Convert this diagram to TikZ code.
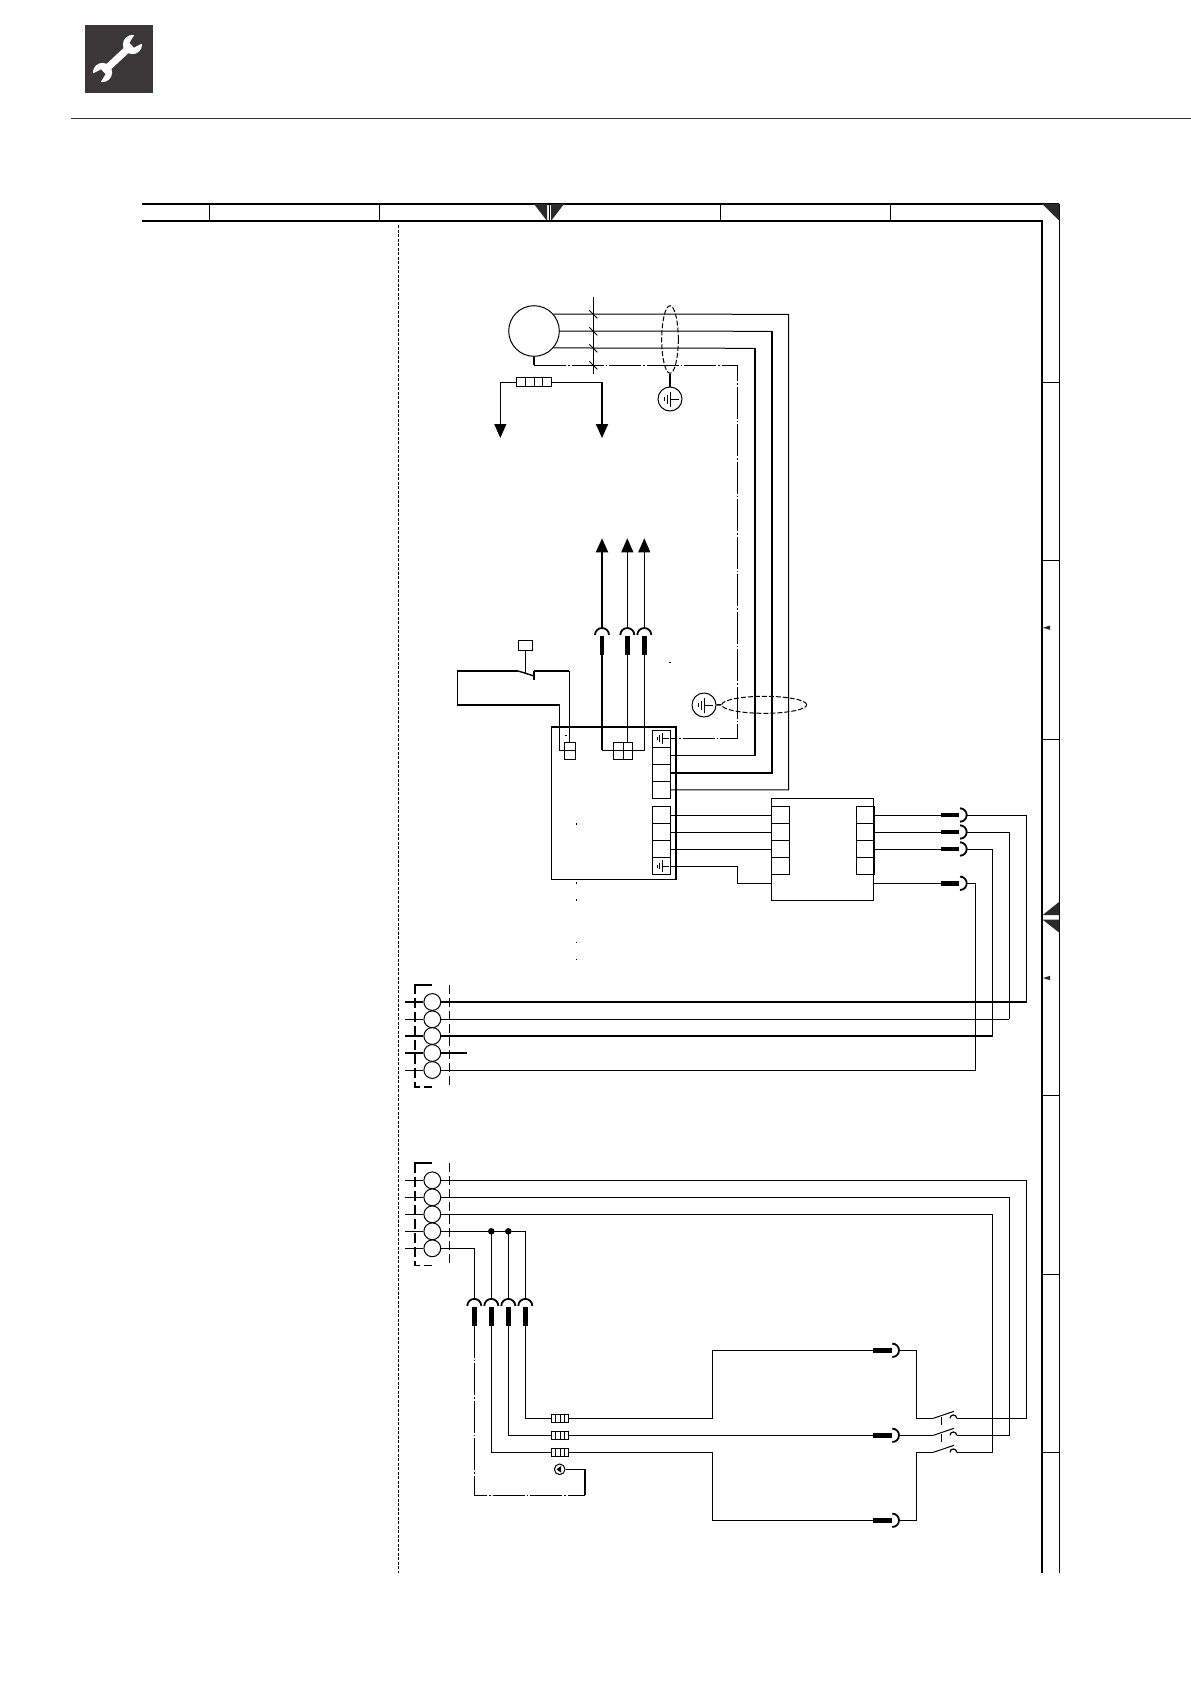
\documentclass[tikz,border=0pt]{standalone}
\usepackage{tikz}
\usetikzlibrary{arrows.meta}
\usetikzlibrary{positioning}
\usetikzlibrary{shapes.geometric}
\definecolor{icongray}{HTML}{3B3738}
\definecolor{markgray}{HTML}{2A2A2A}
\tikzset{wire/.style = {line width=1pt},
         fatwire/.style = {line width=2pt},
         midwire/.style = {line width=1.4pt},
         earthwire/.style = {line width=1pt, dash pattern=on 32pt off 2pt on 1.5pt off 2pt},
         tipwire/.style = {-{Triangle[length=14pt,width=12pt]}},
         termcirc/.style = {circle, draw, line width=1pt, inner sep=0pt, minimum size=16.8pt},
         termblock/.style = {inner sep=0pt, minimum width=34.3pt, minimum height=102pt},
         blockedge/.style = {line width=1.6pt, dash pattern=on 27pt off 4pt on 10pt off 4pt on 10pt off 4pt on 10pt off 4pt on 10pt off 4pt on 10pt off 4pt on 10pt off 4pt on 10pt off 4pt on 10pt off 4pt},
         blockside/.style = {line width=0.9pt, dash pattern=on 9pt off 4pt},
         cellbox/.style = {draw, line width=0.9pt, inner sep=0pt, minimum width=17.6pt, minimum height=17pt},
         stripbox/.style = {draw, line width=1.5pt, inner sep=0pt, minimum width=17.6pt, minimum height=68pt},
         wirebox/.style = {draw, line width=1pt, inner sep=0pt},
         earthcirc/.style = {circle, draw, line width=1pt, inner sep=0pt, minimum size=24pt},
         shieldloop/.style = {ellipse, draw, line width=1pt, inner sep=0pt, dash pattern=on 5pt off 2pt},
         plugbar/.style = {fill=black, inner sep=0pt},
         plugarc/.style = {line width=1.8pt}}
\newcommand{\earthsign}[3]{%
  \begin{scope}[shift={(#1,#2)},scale=#3]
    \draw [wire] (0.7,0) -- (9.3,0);
    \draw [midwire] (0.7,-7.5) -- (0.7,7.5);
    \draw [wire] (-2.7,-4.5) -- (-2.7,4.5);
    \draw [wire] (-5.7,-2) -- (-5.7,2);
  \end{scope}}

\begin{document}
\begin{tikzpicture}[x=1pt,y=-1pt]
  \useasboundingbox (0,0) rectangle (1191,1684);

  % header
  \fill [icongray] (85,25) rectangle (153,93);
  \begin{scope}[shift={(117.5,58.5)},rotate=43]
    \draw [white, line width=7pt] (-19,0) -- (19,0);
    \foreach \s in {1,-1} {
      \fill [white] ({\s*20.5},0) circle (9.6pt);
      \fill [icongray] ({\s*19.5},-3.2) -- ({\s*33},-7) -- ({\s*33},7) -- ({\s*19.5},3.2) -- cycle;
    }
  \end{scope}
  \draw [line width=1pt, black!80] (71,118.3) -- (1191,118.3);

  % frame
  \draw [line width=1.1pt] (142,204) -- (1059.3,204);
  \draw [line width=2.2pt] (142,220.7) -- (1042.3,220.7) -- (1042.3,1573);
  \draw [line width=1pt] (1059.3,204) -- (1059.3,1573);
  \foreach \x in {209,379,549,720,890} {
    \draw [wire] (\x,204) -- (\x,220.7);
  }
  \foreach \y in {382.4,560.7,739,1095.6,1274,1452.3} {
    \draw [wire] (1042.3,\y) -- (1059.3,\y);
  }
  \fill [markgray] (534,204) -- (547,204) -- (547,221) -- cycle;
  \fill [markgray] (551,204) -- (564,204) -- (551,221) -- cycle;
  \fill [markgray] (1041.7,203.5) -- (1059.3,203.5) -- (1059.3,220.7) -- cycle;
  \fill [markgray] (1059.3,901.7) -- (1042.7,915) -- (1059.3,915) -- cycle;
  \fill [markgray] (1042.7,919.7) -- (1059.3,919.7) -- (1059.3,932.7) -- cycle;
  \foreach \y in {627.7,978} {
    \fill [markgray] (1043,\y) -- (1050,\y-2.2) -- (1050,\y+2.2) -- cycle;
  }
  \draw [line width=0.9pt, dash pattern=on 3pt off 1.5pt] (398,225) -- (398,1573);

  % motor and its cable
  \node [circle, draw, line width=1pt, inner sep=0pt, minimum size=50.6pt] (motor) at (534,331) {};
  \coordinate (cableA) at (788.7,314.3);
  \coordinate (cableB) at (772,331.3);
  \coordinate (cableC) at (755,348.3);
  \coordinate (cableD) at (737.7,365.3);
  \coordinate (motorfoot) at (534,365.3);

  % box with the terminal strips
  \node [draw, line width=1pt, inner sep=0pt, minimum width=123.7pt, minimum height=152.7pt] (boxA) at (613.5,803.35) {};
  \draw [fatwire] (boxA.north west) -- (boxA.north east) -- (boxA.south east);
  \foreach \i/\y in {1/738.8,2/755.8,3/772.8,4/789.8} {
    \node [cellbox] (stripU\i) at (661.5,\y) {};
  }
  \foreach \i/\y in {1/815,2/832,3/849,4/866} {
    \node [cellbox] (stripL\i) at (661.5,\y) {};
  }
  \node [stripbox] (stripU) at (661.5,764.3) {};
  \node [stripbox] (stripL) at (661.5,840.5) {};
  \earthsign{662}{738.8}{0.75}
  \earthsign{662}{866}{0.75}

  % motor wires
  \draw [wire] (motor.41) -- (cableA) |- (stripU4.east);
  \draw [wire] (motor.east) -- (cableB);
  \draw [fatwire] (cableB) |- (stripU3.east);
  \draw [wire] (motor.-41) -- (cableC);
  \draw [midwire] (cableC) -- (755,755.8);
  \draw [wire] (755,755.8) -- (stripU2.east);
  \draw [midwire] (motor.south) -- (motorfoot);
  \draw [earthwire] (motorfoot) -- (cableD) |- (stripU1.east);
  \draw [wire] (593.3,296.7) -- (593.3,374);
  \foreach \y in {314.3,331.3,348.3,365.3} {
    \draw [wire] (589.3,\y-4) -- (597.3,\y+4);
  }

  % cable shields
  \node [shieldloop, minimum width=16.6pt, minimum height=67.6pt] (shieldA) at (670,339.5) {};
  \node [earthcirc] (earthA) at (670,399) {};
  \earthsign{670}{399}{1}
  \draw [midwire] (shieldA.south) -- (earthA);
  \node [shieldloop, minimum width=85pt, minimum height=17pt] (shieldB) at (764.2,704.8) {};
  \node [earthcirc] (earthB) at (704,705) {};
  \earthsign{704}{705}{1}
  \draw [midwire] (earthB) -- (shieldB.west);

  % fuse under the motor
  \node [wirebox, line width=1.3pt, minimum width=35pt, minimum height=9pt] (fuseTop) at (534.2,382.3) {};
  \foreach \x in {525.5,534.2,542.9} {
    \draw [wire] (\x,377.7) -- (\x,386.9);
  }
  \coordinate (downA) at (500.3,438);
  \coordinate (downB) at (602,438);
  \draw [wire, tipwire] (fuseTop.west) -| (downA);
  \draw [wire] (fuseTop.east) -- (602,382.3);
  \draw [fatwire, tipwire] (602,382.3) -- (downB);

  % plugs pointing up
  \foreach \n/\x/\y in {a/602/645.3,b/627.3/645.3,c/644.3/645.3,d/474.3/1316.2,e/491.3/1316.2,f/508.3/1316.2,g/525.3/1316.2} {
    \node [plugbar, minimum width=4.7pt, minimum height=19pt] (plug\n) at (\x,\y) {};
    \draw [plugarc] (\x-7,\y-10.3) arc (180:0:7pt);
    \coordinate (arc\n) at (\x,\y-17.3);
  }
  \draw [fatwire, tipwire] (arca) -- (602,538.3);
  \draw [wire, tipwire] (arcb) -- (627.3,538.3);
  \draw [wire, tipwire] (arcc) -- (644.3,538.3);

  % small connectors in the box
  \node [wirebox, minimum width=11pt, minimum height=8.5pt] (conA1) at (569.8,746.5) {};
  \node [wirebox, minimum width=11pt, minimum height=8.5pt] (conA2) at (569.8,755) {};
  \node [wirebox, minimum width=9.5pt, minimum height=8.5pt] (conB1) at (618.5,746.5) {};
  \node [wirebox, minimum width=9.5pt, minimum height=8.5pt] (conB2) at (628,746.5) {};
  \node [wirebox, minimum width=9.5pt, minimum height=8.5pt] (conB3) at (618.5,755) {};
  \node [wirebox, minimum width=9.5pt, minimum height=8.5pt] (conB4) at (628,755) {};
  \draw [midwire] (613.7,742.2) -- (613.7,759.3);
  \draw [fatwire] (pluga.south) -- (602,750.3);
  \draw [wire] (602,750.3) -- (644.3,750.3) -- (plugc.south);
  \draw [wire] (plugb.south) -- (627.3,742.2);

  % door switch
  \coordinate (switchL) at (518.3,671);
  \coordinate (switchR) at (534,671);
  \node [wirebox, minimum width=14pt, minimum height=10.7pt] (switchhead) at (525.7,645.6) {};
  \draw [wire] (switchhead.south) -- (525.7,674);
  \draw [midwire] (switchL) -- (534,676);
  \draw [midwire] (switchR) -- (534,680);
  \draw [midwire] (switchL) -- (457.3,671) -- (457.3,705) -- (559.7,705);
  \draw [midwire] (switchR) -- (569.3,671);
  \draw [wire] (569.3,671) -- (569.3,742.2);
  \draw [wire] (559.7,705) -- (559.7,750.3) -- (564.3,750.3);

  % second box
  \node [draw, line width=1.1pt, inner sep=0pt, minimum width=102pt, minimum height=102pt] (boxB) at (822.7,849.3) {};
  \foreach \i/\y in {1/815,2/832,3/849,4/866} {
    \node [cellbox] (cellL\i) at (780.5,\y) {};
    \node [cellbox] (cellR\i) at (865.2,\y) {};
  }
  \foreach \i in {1,2,3} {
    \draw [wire] (stripL\i.east) -- (cellL\i.west);
  }
  \coordinate (boxBin) at (771.7,883.3);
  \coordinate (boxBout) at (873.7,883.3);
  \draw [wire] (stripL4.east) -- (737.7,866) |- (boxBin);

  % plugs pointing right
  \foreach \n/\x/\y in {h/950.2/815,i/950.2/832,j/950.2/849,k/950.2/883.3,l/882.5/1350.3,m/882.5/1435.3,n/882.5/1520.3} {
    \node [plugbar, minimum width=18.4pt, minimum height=4.7pt] (plug\n) at (\x,\y) {};
    \draw [plugarc] (\x+9.8,\y-6.7) arc (90:-90:6.7pt);
    \coordinate (arc\n) at (\x+16.5,\y);
  }
  \draw [wire] (cellR1.east) -- (plugh.west);
  \draw [wire] (cellR2.east) -- (plugi.west);
  \draw [wire] (cellR3.east) -- (plugj.west);
  \draw [wire] (boxBout) -- (plugk.west);

  % terminals of the upper row
  \node [termblock] (blockA) at (432.2,1036) {};
  \draw [blockedge] (blockA.north) -- (blockA.north west) -- (blockA.south west) -- (blockA.south);
  \draw [blockside] (blockA.north east) -- (blockA.south east);
  \foreach \i/\y/\w in {1/1002/2pt,2/1019.3/1pt,3/1036/2pt,4/1053/2pt,5/1070/1pt} {
    \node [termcirc] (termA\i) at (432.3,\y) {};
    \draw [line width=\w] (405,\y) -- (termA\i);
  }
  \coordinate (busA) at (1026.7,1002);
  \coordinate (busB) at (1009.3,1019.3);
  \coordinate (busC) at (992.7,1036);
  \coordinate (busD) at (975.7,1070);
  \coordinate (stubA) at (466.7,1053);
  \draw [wire] (arch) -| (busA);
  \draw [wire] (arci) -| (busB);
  \draw [wire] (arcj) -| (busC);
  \draw [wire] (arck) -| (busD);
  \draw [fatwire] (busA) -- (termA1);
  \draw [wire] (busB) -- (termA2);
  \draw [fatwire] (busC) -- (termA3);
  \draw [fatwire] (stubA) -- (termA4);
  \draw [wire] (busD) -- (termA5);

  % terminals of the lower row
  \node [termblock] (blockB) at (432.2,1214.3) {};
  \draw [blockedge] (blockB.north) -- (blockB.north west) -- (blockB.south west) -- (blockB.south);
  \draw [blockside] (blockB.north east) -- (blockB.south east);
  \foreach \i/\y in {1/1180.3,2/1197.3,3/1214.3,4/1231.3,5/1248.3} {
    \node [termcirc] (termB\i) at (432.3,\y) {};
    \draw [wire] (405,\y) -- (termB\i);
  }
  \foreach \i/\y in {1/1418.3,2/1435.3,3/1452.3} {
    \coordinate (bladeL\i) at (933.3,\y);
    \coordinate (contact\i) at (956.7,\y);
    \draw [wire] (bladeL\i) -- (954,\y-7);
    \draw [line width=1.2pt] (950,\y) arc (180:0:3.35pt);
  }
  \foreach \y in {1417,1434} {
    \draw [wire] (941.3,\y) -- (941.3,\y+7.5);
  }
  \draw [wire] (termB1) -- (1026.5,1180.3) |- (contact1);
  \draw [wire] (termB2) -- (1009.3,1197.3) |- (contact2);
  \draw [wire] (termB3) -- (992.7,1214.3) |- (contact3);
  \draw [wire] (termB4) -- (525.3,1231.3) -- (arcg);
  \draw [wire] (termB5) -- (474.3,1248.3) -- (arcd);
  \fill (491.3,1231.3) circle (3.3pt);
  \fill (508.3,1231.3) circle (3.3pt);
  \draw [wire] (491.3,1231.3) -- (arce);
  \draw [wire] (508.3,1231.3) -- (arcf);

  % fuses and wires to the plugs
  \foreach \n/\y in {A/1418.3,B/1435.3,C/1452.3} {
    \node [wirebox, line width=0.9pt, minimum width=17.4pt, minimum height=7.6pt] (fuse\n) at (560,\y) {};
    \foreach \x in {551.3,555.6,560,564.4,568.7} {
      \draw [wire] (\x,\y-4.6) -- (\x,\y+4.6);
    }
  }
  \draw [wire] (plugg.south) |- (fuseA.west);
  \draw [wire] (plugf.south) |- (fuseB.west);
  \draw [wire] (pluge.south) |- (fuseC.west);
  \draw [wire] (fuseA.east) -- (712.3,1418.3) -- (712.3,1350.3) -- (plugl.west);
  \draw [wire] (fuseB.east) -- (plugm.west);
  \draw [wire] (fuseC.east) -- (712.3,1452.3) -- (712.3,1520.3) -- (plugn.west);
  \draw [wire] (arcl) -- (916.3,1350.3) -- (916.3,1418.3) -- (bladeL1);
  \draw [wire] (arcm) -- (bladeL2);
  \draw [wire] (arcn) -- (916.3,1520.3) -- (916.3,1452.3) -- (bladeL3);

  % small earth
  \node [circle, draw, line width=1pt, inner sep=0pt, minimum size=10.6pt] (earthC) at (559.7,1469.3) {};
  \fill (556.5,1469.3) -- (561,1466) -- (561,1472.6) -- cycle;
  \coordinate (earthfoot) at (585,1495);
  \draw [wire] (earthC) -- (585,1469.3);
  \draw [midwire] (585,1469.3) -- (earthfoot);
  \draw [earthwire] (plugd.south) -- (474.3,1495) -- (earthfoot);

  % specks
  \foreach \x/\y in {576.3/824,576.3/883,576.3/900,576.3/942.7,576.3/959.7,670/662.3,566/735.7} {
    \fill (\x-0.6,\y-0.6) rectangle (\x+0.6,\y+0.6);
  }
\end{tikzpicture}
\end{document}
